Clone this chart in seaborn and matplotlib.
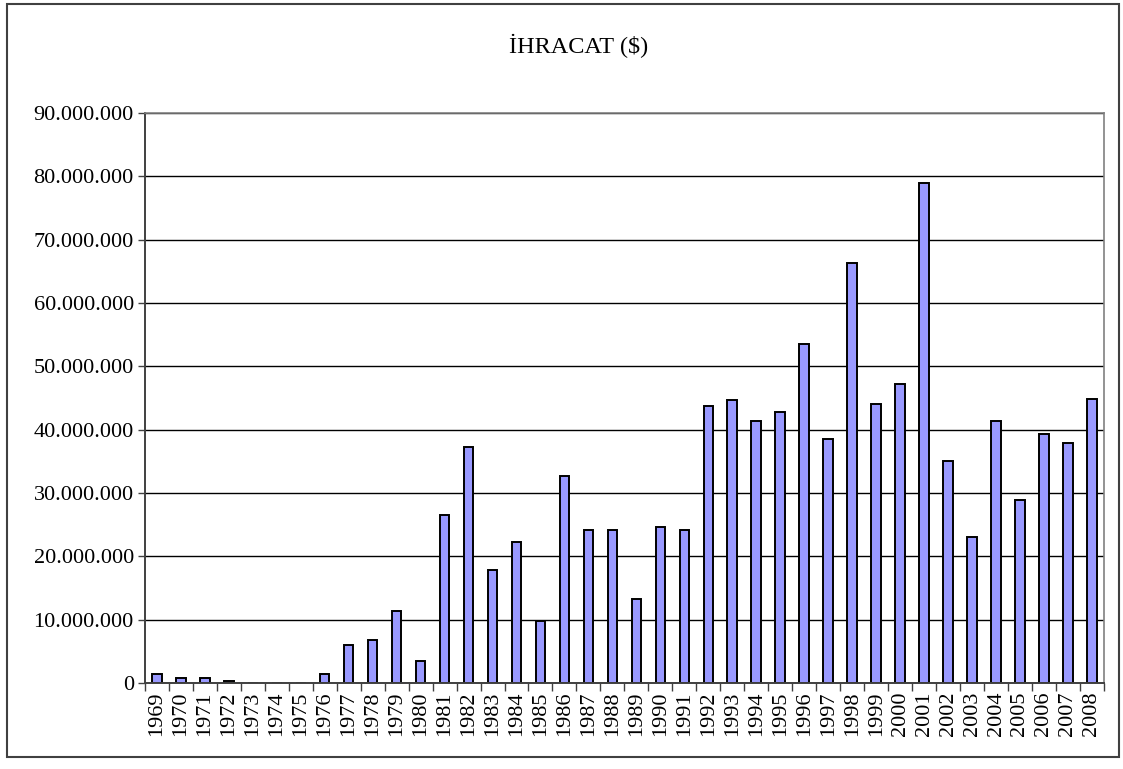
import pandas as pd
import matplotlib.pyplot as plt
import matplotlib.ticker as mticker
from matplotlib.patches import Rectangle
import seaborn as sns

years = [str(y) for y in range(1969, 2009)]
ihracat = [
    1400000, 800000, 800000, 300000, 0, 0, 0, 1400000, 6000000, 6800000,
    11400000, 3400000, 26500000, 37200000, 17900000, 22200000, 9800000, 32600000, 24200000, 24200000,
    13300000, 24600000, 24200000, 43700000, 44600000, 41400000, 42800000, 53600000, 38500000, 66300000,
    44000000, 47200000, 78900000, 35000000, 23100000, 41400000, 28900000, 39300000, 37900000, 44900000,
]
yticks = list(range(0, 90000001, 10000000))

df = pd.DataFrame({"Yıl": years, "İhracat": ihracat})

sns.set_style("white")
plt.rcParams['font.family'] = ['Liberation Serif', 'DejaVu Serif']
plt.rcParams['text.color'] = 'black'
plt.rcParams['xtick.color'] = 'black'
plt.rcParams['ytick.color'] = 'black'

fig = plt.figure(figsize=(11.23, 7.69), dpi=100)
ax = fig.add_axes([0.129, 0.112, 0.854, 0.741])

sns.barplot(data=df, x="Yıl", y="İhracat", order=years, color="#9999FF",
            edgecolor="black", linewidth=1.4, width=0.4, saturation=1, ax=ax)

ax.set_ylim(0, 90000000)
ax.set_xlim(-0.5, len(years) - 0.5)
ax.set_yticks(yticks)
ax.yaxis.set_major_formatter(mticker.FuncFormatter(lambda v, p: f"{int(v):,}".replace(",", ".")))
ax.yaxis.grid(True, color="black", linewidth=1.0)
ax.set_axisbelow(True)

ax.set_xlabel("")
ax.set_ylabel("")
ax.tick_params(axis="y", labelsize=16, length=5, width=1, color="#404040", labelcolor="black",
               direction="out", left=True, pad=3)
ax.tick_params(axis="x", which="major", labelsize=16, length=0, rotation=90, pad=6, labelcolor="black")
ax.set_xticks([i - 0.5 for i in range(len(years) + 1)], minor=True)
ax.tick_params(axis="x", which="minor", length=6, width=1, color="#404040", direction="out", bottom=True)

for side in ["top", "right"]:
    ax.spines[side].set_color("#808080")
    ax.spines[side].set_linewidth(1.2)
for side in ["left", "bottom"]:
    ax.spines[side].set_color("#404040")
    ax.spines[side].set_linewidth(1.4)

fig.text(0.515, 0.94, "İHRACAT ($)", ha="center", va="center", fontsize=17.5, color="black")

fig.patches.append(Rectangle((0.006, 0.015), 0.99, 0.98, transform=fig.transFigure,
                             fill=False, edgecolor="#404040", linewidth=1.5))

fig.savefig("out.png", dpi=100)
